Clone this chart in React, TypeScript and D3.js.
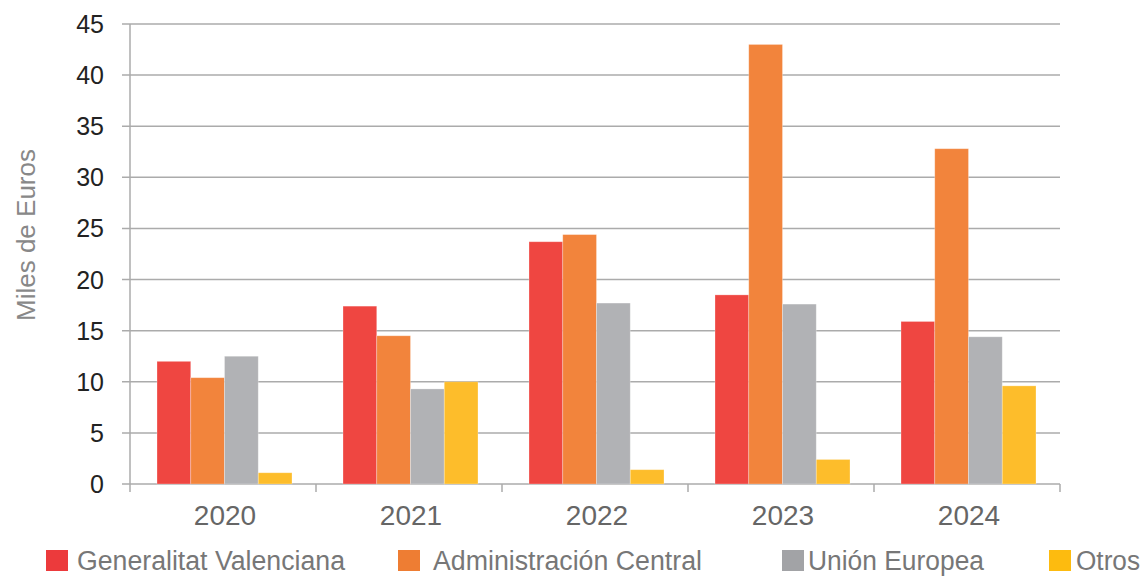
import React from "react";
import * as d3 from "d3";

const years = ["2020", "2021", "2022", "2023", "2024"];
const seriesNames = ["Generalitat Valenciana", "Administración Central", "Unión Europea", "Otros"];
const generalitat = [12.0, 17.4, 23.7, 18.5, 15.9];
const administracion = [10.4, 14.5, 24.4, 43.0, 32.8];
const unionEuropea = [12.5, 9.3, 17.7, 17.6, 14.4];
const otros = [1.1, 10.0, 1.4, 2.4, 9.6];
const yTicks = [0, 5, 10, 15, 20, 25, 30, 35, 40, 45];

const colors = ["#EF4641", "#F2843C", "#B1B2B5", "#FDBD2B"];
const legendColors = ["#EC3A3C", "#EE7D33", "#A2A3A6", "#FDBB0F"];
const legendX = [46, 398, 782, 1049];
const legendTextX = [77, 433, 808, 1076];
const legendLen = [268, 269, 176, 64];

export default function App() {
  const W = 1144, H = 576;
  const left = 130, right = 1060, top = 24, bottom = 484;
  const series = [generalitat, administracion, unionEuropea, otros];

  const x0 = d3.scaleBand<string>().domain(years).range([left, right]).padding(0);
  const x1 = d3.scaleBand<number>().domain([0, 1, 2, 3]).range([27, 27 + 135]).padding(0);
  const y = d3.scaleLinear().domain([0, 45]).range([bottom, top]);
  const font = "'Liberation Sans', Arial, sans-serif";

  return (
    <svg width={W} height={H} style={{ position: "absolute", left: 0, top: 0, background: "#fff" }}>
      {yTicks.map((t) => (
        <g key={t}>
          <line x1={left - 8} x2={right} y1={y(t)} y2={y(t)} stroke="#ABABAB" strokeWidth={1.5} />
          <text x={104} y={y(t) + 9} textAnchor="end" fontFamily={font} fontSize={25} fill="#222">
            {t}
          </text>
        </g>
      ))}
      <line x1={left} x2={left} y1={top} y2={bottom + 8} stroke="#ABABAB" strokeWidth={1.5} />
      {years.map((yr, i) => (
        <g key={yr}>
          {series.map((s, j) => (
            <rect
              key={j}
              x={(x0(yr) as number) + (x1(j) as number)}
              y={y(s[i])}
              width={x1.bandwidth()}
              height={bottom - y(s[i])}
              fill={colors[j]}
              stroke="#fff"
              strokeOpacity={0.35}
              strokeWidth={0.8}
            />
          ))}
          <line
            x1={(x0(yr) as number) + x0.bandwidth()}
            x2={(x0(yr) as number) + x0.bandwidth()}
            y1={bottom}
            y2={bottom + 8}
            stroke="#ABABAB"
            strokeWidth={1.5}
          />
          <text
            x={(x0(yr) as number) + x0.bandwidth() / 2 + 2}
            y={525}
            textAnchor="middle"
            fontFamily={font}
            fontSize={28}
            fill="#666"
          >
            {yr}
          </text>
        </g>
      ))}
      <text
        transform={`translate(35,235) rotate(-90)`}
        textAnchor="middle"
        fontFamily={font}
        fontSize={26}
        fill="#888"
      >
        Miles de Euros
      </text>
      {seriesNames.map((n, i) => (
        <g key={n}>
          <rect x={legendX[i]} y={550} width={22} height={21} fill={legendColors[i]} />
          <text
            x={legendTextX[i]}
            y={570}
            fontFamily={font}
            fontSize={27}
            fill="#777"
            textLength={legendLen[i]}
            lengthAdjust="spacingAndGlyphs"
          >
            {n}
          </text>
        </g>
      ))}
    </svg>
  );
}
